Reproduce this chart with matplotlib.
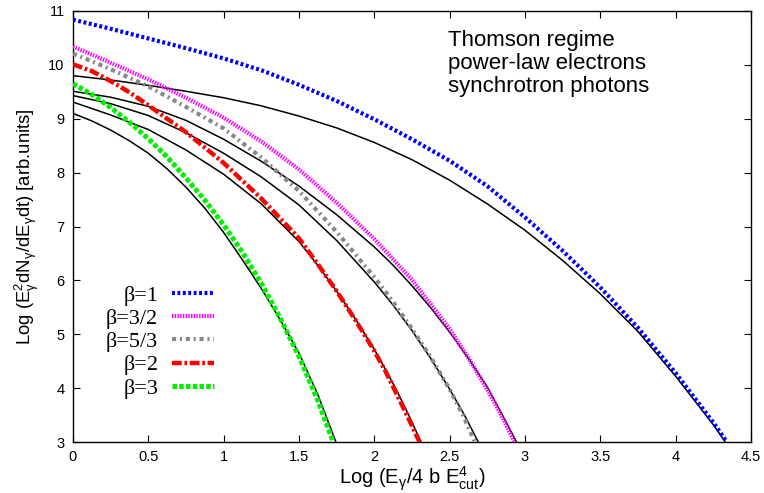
import matplotlib
matplotlib.use("Agg")
import matplotlib.pyplot as plt

plt.rcParams['font.family'] = ['Liberation Sans', 'DejaVu Sans']
plt.rcParams['mathtext.default'] = 'regular'

# ---- data ----
# beta = 1 (blue) and its black companion
x_b1 = [0, 0.25, 0.5, 0.75, 1.0, 1.25, 1.5, 1.75, 2.0, 2.25, 2.5, 2.75, 3.0, 3.25, 3.5, 3.75, 4.0, 4.25, 4.34]
y_b1 = [10.84, 10.67, 10.49, 10.31, 10.12, 9.9, 9.63, 9.33, 8.99, 8.62, 8.22, 7.75, 7.17, 6.55, 5.87, 5.12, 4.28, 3.36, 3.0]
x_k1 = [0, 0.25, 0.5, 0.75, 1.0, 1.25, 1.5, 1.75, 2.0, 2.25, 2.5, 2.75, 3.0, 3.25, 3.5, 3.75, 4.0, 4.25, 4.33]
y_k1 = [9.80, 9.72, 9.62, 9.51, 9.39, 9.24, 9.05, 8.83, 8.56, 8.24, 7.86, 7.42, 6.93, 6.37, 5.75, 5.05, 4.22, 3.32, 3.0]

# beta = 3/2 (magenta)
x_b32 = [0, 0.25, 0.5, 0.75, 1.0, 1.25, 1.5, 1.75, 2.0, 2.25, 2.5, 2.625, 2.75, 2.85, 2.93]
y_b32 = [10.34, 10.04, 9.73, 9.39, 9.02, 8.58, 8.06, 7.44, 6.77, 6.01, 5.1, 4.56, 3.97, 3.46, 3.0]
x_k32 = [0, 0.25, 0.5, 0.75, 1.0, 1.25, 1.5, 1.75, 2.0, 2.125, 2.25, 2.375, 2.5, 2.625, 2.75, 2.85, 2.944]
y_k32 = [9.51, 9.40, 9.23, 8.97, 8.62, 8.21, 7.75, 7.22, 6.62, 6.28, 5.9, 5.49, 5.04, 4.55, 4.02, 3.5, 3.0]

# beta = 5/3 (gray)
x_b53 = [0, 0.25, 0.5, 0.75, 1.0, 1.25, 1.5, 1.75, 2.0, 2.125, 2.25, 2.375, 2.5, 2.59, 2.667]
y_b53 = [10.21, 9.92, 9.60, 9.22, 8.82, 8.28, 7.66, 6.9, 6.06, 5.6, 5.1, 4.57, 3.98, 3.49, 3.0]
x_k53 = [0, 0.25, 0.5, 0.75, 1.0, 1.25, 1.5, 1.75, 2.0, 2.125, 2.25, 2.375, 2.5, 2.6, 2.69]
y_k53 = [9.43, 9.28, 9.06, 8.74, 8.36, 7.92, 7.40, 6.74, 5.97, 5.54, 5.07, 4.55, 3.98, 3.49, 3.0]

# beta = 2 (red)
x_b2 = [0, 0.125, 0.25, 0.375, 0.5, 0.75, 1.0, 1.25, 1.5, 1.625, 1.75, 1.875, 2.0, 2.075, 2.15, 2.225, 2.3]
y_b2 = [10.01, 9.885, 9.70, 9.49, 9.25, 8.75, 8.18, 7.52, 6.78, 6.30, 5.80, 5.26, 4.69, 4.31, 3.88, 3.45, 3.0]
x_k2 = [0, 0.25, 0.5, 0.75, 1.0, 1.25, 1.5, 1.625, 1.75, 1.875, 2.0, 2.075, 2.15, 2.23, 2.31]
y_k2 = [9.31, 9.07, 8.80, 8.42, 7.97, 7.42, 6.72, 6.28, 5.80, 5.28, 4.72, 4.34, 3.95, 3.49, 3.0]

# beta = 3 (green)
x_b3 = [0, 0.125, 0.25, 0.375, 0.5, 0.625, 0.75, 0.875, 1.0, 1.125, 1.25, 1.375, 1.5, 1.625, 1.727]
y_b3 = [9.65, 9.45, 9.21, 8.935, 8.63, 8.29, 7.90, 7.49, 7.03, 6.52, 5.945, 5.30, 4.59, 3.77, 3.0]
x_k3 = [0, 0.125, 0.25, 0.375, 0.5, 0.625, 0.75, 0.875, 1.0, 1.125, 1.25, 1.375, 1.5, 1.625, 1.745]
y_k3 = [9.10, 8.96, 8.79, 8.59, 8.36, 8.07, 7.73, 7.34, 6.89, 6.38, 5.85, 5.27, 4.65, 3.88, 3.0]

labels = ['β=1', 'β=3/2', 'β=5/3', 'β=2', 'β=3']
xticks = [0, 0.5, 1, 1.5, 2, 2.5, 3, 3.5, 4, 4.5]
xtick_labels = ['0', '0.5', '1', '1.5', '2', '2.5', '3', '3.5', '4', '4.5']
yticks = [3, 4, 5, 6, 7, 8, 9, 10, 11]

fig = plt.figure(figsize=(7.64, 4.93), dpi=100)
ax = fig.add_axes([0.0955, 0.1034, 0.8875, 0.8743])

black_kw = dict(color='black', lw=1.1, solid_capstyle='butt', solid_joinstyle='round', zorder=2)
for xs, ys in [(x_k1, y_k1), (x_k32, y_k32), (x_k53, y_k53), (x_k2, y_k2), (x_k3, y_k3)]:
    ax.plot(xs, ys, **black_kw)

styles = [
    dict(color='#0000ff', lw=3.0, dashes=(0.7, 0.6)),
    dict(color='#ff00ff', lw=3.0, dashes=(0.35, 0.3)),
    dict(color='#888888', lw=3.0, dashes=(1.0, 0.9, 0.5, 0.9)),
    dict(color='#ff0000', lw=3.2, dashes=(2.2, 0.6, 0.6, 0.6)),
    dict(color='#00ee00', lw=3.6, dashes=(0.9, 0.45)),
]
series = [(x_b1, y_b1), (x_b32, y_b32), (x_b53, y_b53), (x_b2, y_b2), (x_b3, y_b3)]
handles = []
for (xs, ys), st, lab in zip(series, styles, labels):
    h, = ax.plot(xs, ys, label=lab, dash_capstyle='butt', zorder=3, **st)
    handles.append(h)

ax.set_xlim(0, 4.5)
ax.set_ylim(3, 11)
ax.set_xticks(xticks)
ax.set_xticklabels(xtick_labels)
ax.set_yticks(yticks)
ax.tick_params(direction='in', top=True, right=True, length=5, width=0.8,
               labelsize=10.5, pad=6)
for sp in ax.spines.values():
    sp.set_linewidth(1.0)

ax.set_xlabel(r'Log (E$_\gamma$/4 b E$^4_{cut}$)', fontsize=14.5, labelpad=0)
ax.set_ylabel(r'Log (E$^2_\gamma$dN$_\gamma$/dE$_\gamma$dt) [arb.units]', fontsize=13.3, labelpad=5)

ax.text(0.553, 0.957, 'Thomson regime\npower-law electrons\nsynchrotron photons',
        transform=ax.transAxes, ha='left', va='top', fontsize=16, linespacing=1.15)

leg = ax.legend(handles=handles, labels=labels, loc='upper right',
                bbox_to_anchor=(0.2076, 0.364), frameon=False, markerfirst=False,
                prop={'family': 'Liberation Serif', 'size': 16},
                handlelength=1.9, handletextpad=0.6, labelspacing=0.12,
                borderpad=0, borderaxespad=0)

fig.savefig('out.png', dpi=100)
